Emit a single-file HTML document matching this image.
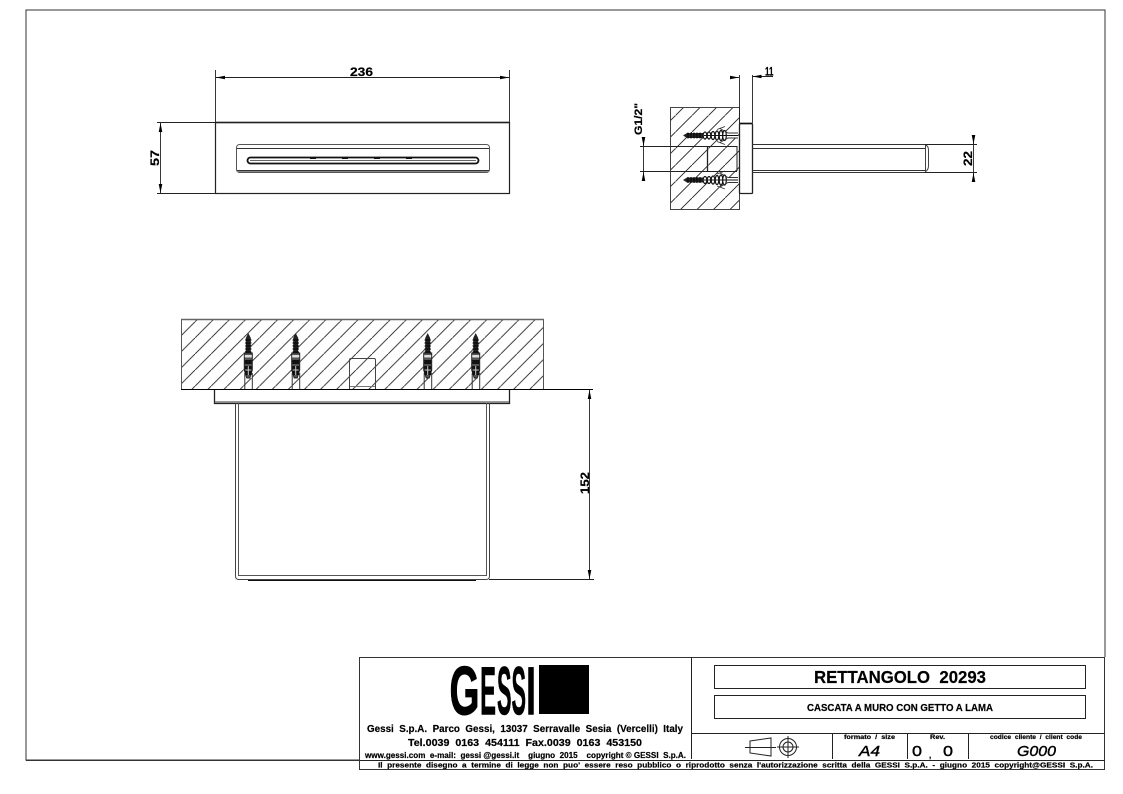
<!DOCTYPE html>
<html><head><meta charset="utf-8"><style>
html,body{margin:0;padding:0;background:#fff}
svg{display:block}
text{font-family:"Liberation Sans",sans-serif;font-weight:bold;fill:#000;stroke:#000;stroke-width:.2}
</style></head><body>
<svg xmlns="http://www.w3.org/2000/svg" width="1123" height="794" viewBox="0 0 1123 794">
<defs>
<pattern id="h1" patternUnits="userSpaceOnUse" width="16.09" height="16.09" patternTransform="translate(1.94,0)"><path d="M-2,18.09L18.09,-2" stroke="#222" stroke-width="0.9" fill="none"/></pattern>
<pattern id="h2" patternUnits="userSpaceOnUse" width="16.5" height="16.5" patternTransform="translate(15.5,0)"><path d="M-2,18.5L18.5,-2" stroke="#222" stroke-width="0.9" fill="none"/></pattern>
<g id="vs">
<rect x="-4" y="19" width="8" height="26" fill="#fff"/>
<path d="M0,0L-2.5,5V20H2.5V5Z" fill="#222"/>
<path d="M-3.2,7H3.2M-3.2,10H3.2M-3.2,13H3.2M-3.2,16H3.2M-3.2,19H3.2" stroke="#000" stroke-width="1"/>
<path d="M-4,20H4V37L1.5,45H-1.5L-4,37Z" fill="#555" stroke="#222" stroke-width="1"/>
<rect x="-3.5" y="22" width="7" height="2.5" fill="#ddd"/>
<rect x="-3.5" y="27" width="7" height="4" fill="#111"/>
<rect x="-3.5" y="33" width="7" height="9" fill="#111"/>
<path d="M0,33V42M-3,37H3" stroke="#ccc" stroke-width="1"/>
<path d="M-3.5,40V56M4,40V56" stroke="#333" stroke-width="1" fill="none"/>
</g>
<g id="hs">
<rect x="725" y="-3" width="13" height="6" fill="#fff"/>
<path d="M683,0L687,-2.5H703V2.5H687Z" fill="#222"/>
<path d="M688,-3V3M691,-3V3M694,-3V3M697,-3V3M700,-3V3" stroke="#000" stroke-width="1"/>
<g fill="#fff" stroke="#111" stroke-width="1.2">
<ellipse cx="705" cy="0" rx="1.8" ry="3.5"/><ellipse cx="709" cy="0" rx="1.8" ry="3.5"/><ellipse cx="713" cy="0" rx="1.8" ry="4"/><ellipse cx="717" cy="0" rx="1.8" ry="4.5"/><ellipse cx="721" cy="0" rx="1.8" ry="5"/><ellipse cx="724.5" cy="0" rx="1.8" ry="5"/>
</g>
<path d="M704,0H738" stroke="#111" stroke-width="1"/>
<path d="M720,-7L728,-2.5H738M720,7L728,2.5H738M717,-6L725,-9M717,6L725,9" stroke="#333" stroke-width=".9" fill="none"/>
</g>
<marker id="a" markerWidth="10" markerHeight="6" refX="9" refY="3" orient="auto-start-reverse" markerUnits="userSpaceOnUse"><path d="M0,1.2L9,3L0,4.8Z" fill="#000"/></marker>
</defs>

<!-- page frame -->
<path d="M359,760H26V10H1105V657" fill="none" stroke="#333" stroke-width="1"/>

<!-- top view -->
<g fill="none" stroke="#222">
<path d="M215,122.5H510" stroke-width="1.6" stroke="#111"/>
<rect x="215.5" y="122.5" width="294" height="71" stroke-width="1.2"/>
<rect x="236.5" y="144.5" width="253" height="28" rx="3" stroke="#555"/>
<path d="M237,148.5H489M237,170.5H489" stroke="#333"/>
<path d="M237,171.5H489" stroke="#888"/>
<rect x="247.5" y="157.5" width="231" height="6" rx="3" stroke-width="1.8" stroke="#111"/>
<path d="M250,160.5H476" stroke="#666"/>
<path d="M310,158.5H316M342,158.5H348M374,158.5H380M406,158.5H412" stroke="#111"/>
</g>
<g fill="none" stroke="#222" stroke-width="0.9">
<path d="M215.5,70V122M509.5,70V122M157,122.5H215M157,193.5H215"/>
<path d="M216,77.5H509" marker-start="url(#a)" marker-end="url(#a)"/>
<path d="M160.5,123V193" marker-start="url(#a)" marker-end="url(#a)"/>
</g>
<text x="350" y="76" font-size="11.5" textLength="23" lengthAdjust="spacingAndGlyphs">236</text>
<text transform="translate(159,166) rotate(-90)" font-size="11.5" textLength="16" lengthAdjust="spacingAndGlyphs">57</text>

<!-- side view -->
<rect x="670.5" y="107.5" width="69" height="102" fill="url(#h2)" stroke="#444"/>
<use href="#hs" transform="translate(0,135.5)"/>
<use href="#hs" transform="translate(0,180)"/>
<g fill="none" stroke="#222">
<path d="M739.5,107V209" stroke="#444"/>
<rect x="739.5" y="123.5" width="13" height="70" rx="1" stroke-width="1.3"/>
<path d="M740,123.5H752" stroke-width="1.6" stroke="#111"/>
<path d="M752,144.5H925M752,148.5H925M752,170.5H925M752,172.5H925" stroke="#333"/>
<path d="M925.5,144V172M925,144.5Q928.5,146 928.5,150V166Q928.5,170 925,172" stroke="#444"/>
<path d="M707.5,146V171" stroke-width="1.3"/>
<path d="M737,146V171"/>
</g>
<g fill="none" stroke="#222" stroke-width="0.9">
<path d="M739.5,75V123M752.5,75V123"/>
<path d="M730,77.5H739" marker-end="url(#a)"/>
<path d="M773,76.5H752.5" marker-end="url(#a)"/>
<path d="M925,144.5H977M925,172.5H977"/>
<path d="M973.5,137V180"/>
<path d="M973.5,136V144" marker-end="url(#a)"/>
<path d="M973.5,181V173" marker-end="url(#a)"/>
<path d="M640,146.5H737M640,171.5H737"/>
<path d="M643.5,138V180"/>
<path d="M643.5,137V146" marker-end="url(#a)"/>
<path d="M643.5,181V172" marker-end="url(#a)"/>
</g>
<text x="765" y="75.5" font-size="11.5" textLength="8.5" lengthAdjust="spacingAndGlyphs">11</text>
<text transform="translate(972,166) rotate(-90)" font-size="11.5" textLength="15" lengthAdjust="spacingAndGlyphs">22</text>
<text transform="translate(642,135) rotate(-90)" font-size="11" textLength="32" lengthAdjust="spacingAndGlyphs">G1/2"</text>

<!-- front view -->
<rect x="181.5" y="319.5" width="362" height="70" fill="url(#h1)" stroke="#555"/>
<path d="M181,319.5H544" stroke="#666" stroke-width="1.4"/>
<use href="#vs" x="248.3" y="333"/>
<use href="#vs" x="295.7" y="333"/>
<use href="#vs" x="427.7" y="333"/>
<use href="#vs" x="475.7" y="333"/>
<g fill="none" stroke="#222">
<path d="M349.5,389V360Q349.5,358.5 351,358.5H374Q375.5,358.5 375.5,360V389" stroke="#444"/>
<path d="M350,386.5H375" stroke="#777"/>
<path d="M181,389.5H593" stroke="#000"/>
<path d="M214.5,390V403.5H509.5V390" stroke-width="1.3"/>
<path d="M215,402H509" stroke="#777" stroke-width="1.5"/>
<path d="M235.5,403V576Q235.5,579.5 239,579.5H486Q489.5,579.5 489.5,576V403" stroke="#444"/>
<path d="M238.5,403V575.5H486.5V403" stroke="#555"/>
<path d="M248,580.5H476" stroke="#111" stroke-width="1"/>
</g>
<g fill="none" stroke="#222" stroke-width="0.9">
<path d="M489,579.5H594"/>
<path d="M589.5,390V579" marker-start="url(#a)" marker-end="url(#a)"/>
</g>
<text transform="translate(589,494) rotate(-90)" font-size="11.5" textLength="22" lengthAdjust="spacingAndGlyphs">152</text>

<!-- title block -->
<rect x="359.5" y="657.5" width="745" height="112" fill="#fff" stroke="#333" stroke-width="1"/>
<g fill="none" stroke="#222">
<path d="M691.5,657V759M359,760.5H1105M691,733.5H1105M832.5,733V759M907.5,733V759M968.5,733V759"/>
<rect x="714.5" y="665.5" width="371" height="23"/>
<rect x="714.5" y="695.5" width="371" height="23"/>
<path d="M26,760.5H360" stroke="#333"/>
</g>
<g style="stroke-width:1">
<text x="449.5" y="714.5" font-size="69" style="stroke-width:1" textLength="30" lengthAdjust="spacingAndGlyphs">G</text>
<text x="480" y="714.5" font-size="69" style="stroke-width:.6" textLength="16" lengthAdjust="spacingAndGlyphs">E</text>
<text x="497" y="714.5" font-size="69" style="stroke-width:.6" textLength="14.5" lengthAdjust="spacingAndGlyphs">S</text>
<text x="511.5" y="714.5" font-size="69" style="stroke-width:.6" textLength="14.5" lengthAdjust="spacingAndGlyphs">S</text>
<text x="526" y="714.5" font-size="69" style="stroke-width:.4" textLength="10" lengthAdjust="spacingAndGlyphs">I</text>
</g>
<rect x="539" y="665" width="50" height="49" fill="#000"/>
<text x="367" y="732" font-size="10.5" textLength="316" lengthAdjust="spacingAndGlyphs" xml:space="preserve">Gessi  S.p.A.  Parco  Gessi,  13037  Serravalle  Sesia  (Vercelli)  Italy</text>
<text x="408" y="746" font-size="10.5" textLength="234" lengthAdjust="spacingAndGlyphs" xml:space="preserve">Tel.0039  0163  454111  Fax.0039  0163  453150</text>
<text x="365" y="758" font-size="8" textLength="321" lengthAdjust="spacingAndGlyphs" xml:space="preserve">www.gessi.com  e-mail:  gessi @gessi.it    giugno  2015    copyright © GESSI  S.p.A.</text>
<text x="378" y="767.5" font-size="7.5" textLength="715" lengthAdjust="spacingAndGlyphs" xml:space="preserve">Il  presente  disegno  a  termine  di  legge  non  puo'  essere  reso  pubblico  o  riprodotto  senza  l'autorizzazione  scritta  della  GESSI  S.p.A.  -  giugno  2015  copyright@GESSI  S.p.A.</text>
<text x="814" y="683" font-size="17.5" textLength="172" lengthAdjust="spacingAndGlyphs" xml:space="preserve">RETTANGOLO  20293</text>
<text x="807" y="711" font-size="10.5" textLength="186" lengthAdjust="spacingAndGlyphs">CASCATA A MURO CON GETTO A LAMA</text>
<text x="844" y="739" font-size="6.5" textLength="51" lengthAdjust="spacingAndGlyphs" xml:space="preserve">formato  /  size</text>
<text x="930" y="739" font-size="6.5" textLength="15" lengthAdjust="spacingAndGlyphs">Rev.</text>
<text x="990" y="739" font-size="6.5" textLength="92" lengthAdjust="spacingAndGlyphs" xml:space="preserve">codice  cliente  /  client  code</text>
<text x="859" y="756" font-size="15" style="font-style:italic;font-weight:normal;stroke-width:.4" textLength="21" lengthAdjust="spacingAndGlyphs">A4</text>
<text x="1017" y="756" font-size="15" style="font-style:italic;font-weight:normal;stroke-width:.4" textLength="39" lengthAdjust="spacingAndGlyphs">G000</text>
<text x="912" y="756" font-size="15" style="font-weight:normal;stroke-width:.4" textLength="10" lengthAdjust="spacingAndGlyphs">0</text>
<text x="943" y="756" font-size="15" style="font-weight:normal;stroke-width:.4" textLength="10" lengthAdjust="spacingAndGlyphs">0</text>
<text x="929" y="758" font-size="8">,</text>
<g fill="none" stroke="#222" stroke-width="1">
<path d="M750,741L771,738V756L750,753Z"/>
<path d="M745,747.5H776"/>
<circle cx="788" cy="747" r="8.5"/>
<circle cx="788" cy="747" r="5"/>
<path d="M777,747H799M788,736V758"/>
</g>
</svg>
</body></html>
